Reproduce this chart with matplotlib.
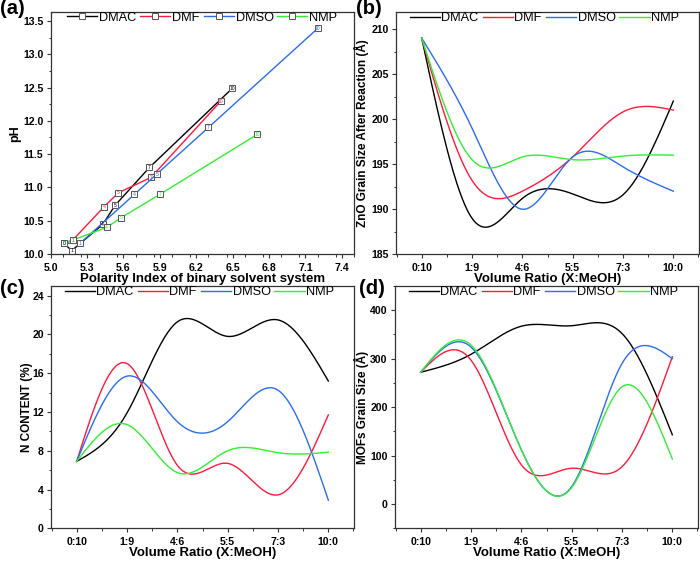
import numpy as np
import matplotlib
matplotlib.use("Agg")
import matplotlib.pyplot as plt
from matplotlib.ticker import MultipleLocator, FormatStrFormatter

plt.rcParams['font.family'] = ['Liberation Sans', 'DejaVu Sans']

# ---------------- data ----------------
solvents = ["DMAC", "DMF", "DMSO", "NMP"]
colors = ["#000000", "#ff1a3c", "#2b6cf0", "#33ee33"]
ratio_labels = ["0:10", "1:9", "4:6", "5:5", "7:3", "10:0"]
point_ids = ["0", "1", "4", "5", "7", "10"]

# (a) polarity index vs pH
pi_dmac = [5.11, 5.173, 5.429, 5.533, 5.814, 6.498]
ph_dmac = [10.16, 10.05, 10.445, 10.735, 11.30, 12.49]
pi_dmf = [5.11, 5.182, 5.44, 5.558, 5.827, 6.402]
ph_dmf = [10.16, 10.21, 10.71, 10.92, 11.15, 12.295]
pi_dmso = [5.11, 5.242, 5.69, 5.874, 6.30, 7.202]
ph_dmso = [10.16, 10.16, 10.895, 11.20, 11.90, 13.39]
pi_nmp = [5.112, 5.182, 5.462, 5.58, 5.899, 6.702]
ph_nmp = [10.16, 10.21, 10.40, 10.545, 10.895, 11.795]

# (b) ZnO grain size after reaction
zno_dmac = [209, 189.0, 191.2, 191.7, 191.6, 202]
zno_dmf = [209, 193.2, 192.0, 195.8, 200.8, 201]
zno_dmso = [209, 199, 190, 195.8, 194.7, 192]
zno_nmp = [209, 195.5, 195.8, 195.5, 195.9, 196]

# (c) N content
n_dmac = [6.9, 11.9, 21.3, 19.8, 21.5, 15.2]
n_dmf = [6.9, 17.0, 6.5, 6.7, 3.45, 11.7]
n_dmso = [6.9, 15.7, 11.0, 11.0, 14.25, 2.9]
n_nmp = [6.9, 10.7, 5.75, 8.0, 7.8, 7.85]

# (d) MOFs grain size
mof_dmac = [272, 309, 367, 368, 352, 143]
mof_dmf = [272, 297, 81, 74, 77, 304]
mof_dmso = [272, 324, 112, 36, 290, 300]
mof_nmp = [272, 328, 112, 34, 242, 93]


def natural_spline(x, y, n=300):
    x = np.asarray(x, float)
    y = np.asarray(y, float)
    k = len(x)
    h = np.diff(x)
    A = np.zeros((k, k))
    r = np.zeros(k)
    A[0, 0] = A[-1, -1] = 1
    for i in range(1, k - 1):
        A[i, i - 1] = h[i - 1]
        A[i, i] = 2 * (h[i - 1] + h[i])
        A[i, i + 1] = h[i]
        r[i] = 6 * ((y[i + 1] - y[i]) / h[i] - (y[i] - y[i - 1]) / h[i - 1])
    M = np.linalg.solve(A, r)
    xs = np.linspace(x[0], x[-1], n)
    idx = np.clip(np.searchsorted(x, xs) - 1, 0, k - 2)
    x0, x1 = x[idx], x[idx + 1]
    hh = x1 - x0
    a = (x1 - xs) / hh
    b = (xs - x0) / hh
    ys = a * y[idx] + b * y[idx + 1] + ((a ** 3 - a) * M[idx] + (b ** 3 - b) * M[idx + 1]) * hh ** 2 / 6
    return xs, ys


fig = plt.figure(figsize=(7.0, 5.61), dpi=100)
W, H = 700.0, 561.0


def add_ax(l, t, r, b):
    return fig.add_axes([l / W, 1 - b / H, (r - l) / W, (b - t) / H])


axa = add_ax(50.7, 12.3, 354, 254)
axb = add_ax(396, 12.3, 699, 254.3)
axc = add_ax(51, 286, 354, 528.3)
axd = add_ax(395, 286, 698, 528.3)

TICK_FS = 7.6


def style(ax):
    for s in ax.spines.values():
        s.set_color('#333333')
        s.set_linewidth(0.9)
    ax.tick_params(which='major', direction='out', length=3, width=0.8, color='#333333', pad=2.2)
    ax.tick_params(which='minor', direction='out', length=1.8, width=0.7, color='#333333')
    ax.tick_params(axis='x', which='major', pad=3.2)
    for lab in ax.get_xticklabels() + ax.get_yticklabels():
        lab.set_fontsize(TICK_FS)
        lab.set_fontweight('bold')


LEG = dict(loc='center', ncol=4, frameon=False, fontsize=9.2, handlelength=2.35,
           handletextpad=0.15, columnspacing=0.3, borderpad=0, borderaxespad=0)

# ---------- (a) ----------
series_a = [(pi_dmac, ph_dmac), (pi_dmf, ph_dmf), (pi_dmso, ph_dmso), (pi_nmp, ph_nmp)]
for (xv, yv), c, name in zip(series_a, colors, solvents):
    axa.plot(xv, yv, color=c, lw=1.0, marker='s', ms=4.5, mfc='white', mec='#555555', mew=0.7, label=name)
    for xx, yy, t in zip(xv, yv, point_ids):
        axa.text(xx, yy, t, color=c, fontsize=3.6, ha='center', va='center', zorder=5)
axa.set_xlim(5.0, 7.5)
axa.set_ylim(10.0, 13.63)
axa.set_xticks(np.round(np.arange(5.0, 7.41, 0.3), 1))
axa.xaxis.set_minor_locator(MultipleLocator(0.15))
axa.yaxis.set_major_locator(MultipleLocator(0.5))
axa.yaxis.set_minor_locator(MultipleLocator(0.25))
axa.xaxis.set_major_formatter(FormatStrFormatter('%.1f'))
axa.yaxis.set_major_formatter(FormatStrFormatter('%.1f'))
axa.set_xlabel("Polarity Index of binary solvent system", fontsize=9.5, fontweight='bold', labelpad=0)
axa.set_ylabel("pH", fontsize=9, fontweight='bold')
axa.yaxis.set_label_coords(-0.098, 0.5)
style(axa)
axa.legend(bbox_to_anchor=(0.5, 0.977), **LEG)


def curve_panel(ax, data, ylim, major, minor, ylabel, ylab_x):
    xi = np.arange(len(ratio_labels))
    for yv, c, name in zip(data, colors, solvents):
        xs, ys = natural_spline(xi, yv)
        ax.plot(xs, ys, color=c, lw=1.0, label=name)
    ax.set_xlim(-0.51, 5.51)
    ax.set_ylim(*ylim)
    ax.set_xticks(xi)
    ax.set_xticklabels(ratio_labels)
    ax.xaxis.set_minor_locator(MultipleLocator(0.5))
    ax.yaxis.set_major_locator(MultipleLocator(major))
    ax.yaxis.set_minor_locator(MultipleLocator(minor))
    ax.set_xlabel("Volume Ratio (X:MeOH)", fontsize=9.5, fontweight='bold', labelpad=0)
    ax.set_ylabel(ylabel, fontsize=8.5, fontweight='bold')
    ax.yaxis.set_label_coords(ylab_x, 0.5)
    style(ax)
    ax.legend(bbox_to_anchor=(0.49, 0.975), **LEG)


curve_panel(axb, [zno_dmac, zno_dmf, zno_dmso, zno_nmp], (185, 211.85), 5, 2.5,
            "ZnO Grain Size After Reaction (Å)", -0.089)
curve_panel(axc, [n_dmac, n_dmf, n_dmso, n_nmp], (0, 25), 4, 2, "N CONTENT (%)", -0.058)
curve_panel(axd, [mof_dmac, mof_dmf, mof_dmso, mof_nmp], (-50, 450), 100, 50,
            "MOFs Grain Size (Å)", -0.086)

for txt, x, y in [("(a)", 0, 9), ("(b)", 356, 9), ("(c)", 0, 289), ("(d)", 359, 289)]:
    fig.text(x / W, 1 - y / H, txt, fontsize=14.5, fontweight='bold', ha='left', va='center')

fig.savefig("out.png", dpi=100)
